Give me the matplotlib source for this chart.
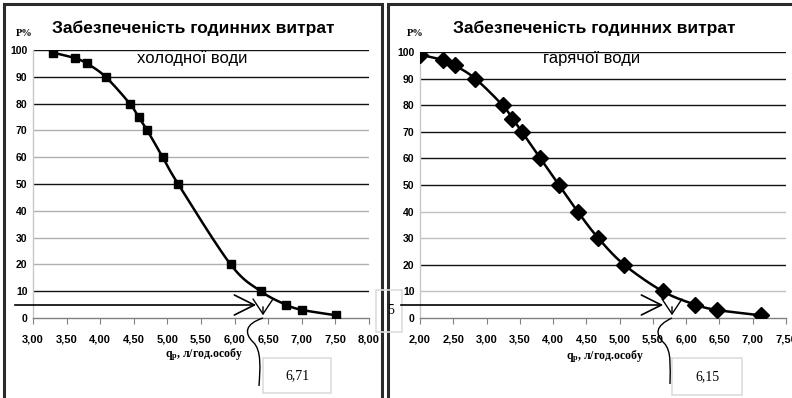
import numpy as np
import matplotlib
matplotlib.use("Agg")
import matplotlib.pyplot as plt
from matplotlib.patches import Rectangle, FancyArrowPatch
from matplotlib.path import Path
from matplotlib.patches import PathPatch

# ---------------- data ----------------
cold_q = [3.30, 3.62, 3.80, 4.08, 4.44, 4.57, 4.70, 4.93, 5.16, 5.94, 6.39, 6.76, 7.01, 7.51]
cold_p = [99, 97, 95, 90, 80, 75, 70, 60, 50, 20, 10, 5, 3, 1]
hot_q = [2.00, 2.34, 2.52, 2.83, 3.24, 3.39, 3.53, 3.81, 4.09, 4.37, 4.68, 5.07, 5.65, 6.14, 6.47, 7.12]
hot_p = [99, 97, 95, 90, 80, 75, 70, 60, 50, 40, 30, 20, 10, 5, 3, 1]

title_main = "Забезпеченість годинних витрат"
sub_cold = "холодної води"
sub_hot = "гарячої води"
ylabel = "P%"
cold_result = "6,71"
hot_result = "6,15"
side_label = "5"
y_ticks = list(range(0, 101, 10))
cold_xticks = [3.0 + 0.5 * i for i in range(11)]
hot_xticks = [2.0 + 0.5 * i for i in range(12)]

W, H = 792, 398
fig = plt.figure(figsize=(W / 100, H / 100), dpi=100)
fig.patch.set_facecolor("white")

sans = ["Liberation Sans", "DejaVu Sans"]
serif = ["Liberation Serif", "DejaVu Serif"]
plt.rcParams["mathtext.fontset"] = "custom"
plt.rcParams["mathtext.rm"] = "Liberation Serif:bold"
plt.rcParams["mathtext.it"] = "Liberation Serif:bold"


def fx(px):
    return px / W


def fy(py):
    return 1 - py / H


def smooth(xs, ys, sx, sy, n=20):
    # Catmull-Rom spline through the data points (in scaled space)
    P = np.column_stack([np.array(xs) * sx, np.array(ys) * sy])
    P = np.vstack([P[0] - (P[1] - P[0]), P, P[-1] + (P[-1] - P[-2])])
    out = []
    for i in range(1, len(P) - 2):
        p0, p1, p2, p3 = P[i - 1], P[i], P[i + 1], P[i + 2]
        t = np.linspace(0, 1, n, endpoint=False)[:, None]
        seg = 0.5 * ((2 * p1) + (-p0 + p2) * t + (2 * p0 - 5 * p1 + 4 * p2 - p3) * t ** 2
                     + (-p0 + 3 * p1 - 3 * p2 + p3) * t ** 3)
        out.append(seg)
    out.append(P[-2][None, :])
    out = np.vstack(out)
    return out[:, 0] / sx, out[:, 1] / sy


def make_panel(rect, xlim, xticks, qs, ps, marker, msize, grid_colors):
    ax = fig.add_axes(rect)
    ax.set_xlim(*xlim)
    ax.set_ylim(0, 100)
    for s in ["top", "right"]:
        ax.spines[s].set_visible(False)
    ax.spines["left"].set_color("#c8c8c8")
    ax.spines["bottom"].set_color("#808080")
    ax.spines["left"].set_linewidth(1.0)
    ax.spines["bottom"].set_linewidth(1.0)
    for v, c in zip(y_ticks[1:], grid_colors):
        ax.axhline(v, color=c, lw=1.0, zorder=1)
    ax.set_yticks(y_ticks)
    ax.set_yticklabels([str(v) for v in y_ticks], family=sans, fontsize=7.5, fontweight="bold")
    ax.tick_params(axis="y", length=0, pad=4)
    ax.set_xticks(xticks)
    ax.set_xticklabels([f"{v:.2f}".replace(".", ",") for v in xticks], family=sans,
                       fontsize=8, fontweight="bold")
    ax.tick_params(axis="x", length=4, color="#808080", pad=8)
    sx = rect[2] * W / (xlim[1] - xlim[0])
    sy = rect[3] * H / 100
    lx, ly = smooth(qs, ps, sx, sy)
    ax.plot(lx, ly, color="black", lw=1.8, zorder=3)
    ax.plot(qs, ps, linestyle="none", marker=marker, markersize=msize, color="black", zorder=4)
    return ax


left_grid = ["#111111", "#b0b0b0", "#b0b0b0", "#b0b0b0", "#111111",
             "#b0b0b0", "#b0b0b0", "#111111", "#111111", "#111111"]
right_grid = ["#c0c0c0", "#111111", "#c0c0c0", "#c0c0c0", "#111111",
              "#111111", "#111111", "#111111", "#111111", "#111111"]

axL = make_panel([fx(33), fy(318), fx(369) - fx(33), fy(50) - fy(318)], (3.0, 8.0),
                 cold_xticks, cold_q, cold_p, "s", 6, left_grid)
axR = make_panel([fx(420), fy(318), fx(786) - fx(420), fy(52) - fy(318)], (2.0, 7.5),
                 hot_xticks, hot_q, hot_p, "D", 8, right_grid)

# ---------------- titles and labels ----------------
for cx in (193, 594):
    fig.text(fx(cx), fy(28), title_main, ha="center", va="center", family=sans,
             fontsize=12.5, fontweight="bold")
for cx, sub in [(192, sub_cold), (592, sub_hot)]:
    fig.text(fx(cx), fy(58), sub, ha="center", va="center", family=sans, fontsize=12)

fig.text(fx(24), fy(34), ylabel, ha="center", va="center", family=serif, fontsize=7.5,
         fontweight="bold")
fig.text(fx(415), fy(33), ylabel, ha="center", va="center", family=serif, fontsize=7.5,
         fontweight="bold")

xlab = "q$_\\mathrm{р}$, л/год.особу"
fig.text(fx(204), fy(355), xlab, ha="center", va="center", family=serif, fontsize=8.5,
         fontweight="bold")
fig.text(fx(605), fy(357), xlab, ha="center", va="center", family=serif, fontsize=8.5,
         fontweight="bold")

# ---------------- panel frames ----------------
frame_kw = dict(transform=fig.transFigure, fill=False, edgecolor="#2a2a2a", lw=2.2, clip_on=False)
fig.add_artist(Rectangle((fx(4), fy(410)), fx(382) - fx(4), fy(4) - fy(410), **frame_kw))
fig.add_artist(Rectangle((fx(388), fy(410)), fx(810) - fx(388), fy(4) - fy(410), **frame_kw))

# ---------------- side "5" box ----------------
fig.add_artist(Rectangle((fx(376), fy(332)), fx(402) - fx(376), fy(290) - fy(332),
                         transform=fig.transFigure, fill=False, edgecolor="#dddddd", lw=1.2))
fig.text(fx(391), fy(311), side_label, ha="center", va="center", family=serif, fontsize=10)


# ---------------- annotations ----------------
def annotate(x0, x1, tipx, curve_pts, box, label):
    # horizontal arrow at P = 5 %
    fig.add_artist(FancyArrowPatch((fx(x0), fy(305)), (fx(x1), fy(305)), transform=fig.transFigure,
                                   arrowstyle="->,head_length=1.2,head_width=0.6", color="black",
                                   lw=1.2, mutation_scale=12))
    # vertical arrow to the axis
    fig.add_artist(FancyArrowPatch((fx(tipx), fy(304)), (fx(tipx), fy(318)), transform=fig.transFigure,
                                   arrowstyle="->,head_length=0.9,head_width=0.6", color="black",
                                   lw=1.0, mutation_scale=12))
    verts = [(fx(px), fy(py)) for px, py in curve_pts]
    codes = [Path.MOVETO] + [Path.CURVE4] * (len(verts) - 1)
    fig.add_artist(PathPatch(Path(verts, codes), transform=fig.transFigure, fill=False,
                             edgecolor="black", lw=1.0))
    bx0, by0, bx1, by1 = box
    fig.add_artist(Rectangle((fx(bx0), fy(by1)), fx(bx1) - fx(bx0), fy(by0) - fy(by1),
                             transform=fig.transFigure, fill=False, edgecolor="#dddddd", lw=1.2))
    fig.text(fx((bx0 + bx1) / 2), fy((by0 + by1) / 2), label, ha="center", va="center",
             family=serif, fontsize=10)


annotate(12, 259, 263,
         [(263, 318), (245, 324), (244, 333), (253, 342),
          (262, 350), (260, 370), (259, 386)],
         (263, 358, 331, 393), cold_result)
annotate(398, 666, 672,
         [(672, 318), (655, 326), (655, 334), (664, 343),
          (672, 351), (670, 368), (670, 384)],
         (672, 358, 742, 395), hot_result)

fig.savefig("out.png", dpi=100)
